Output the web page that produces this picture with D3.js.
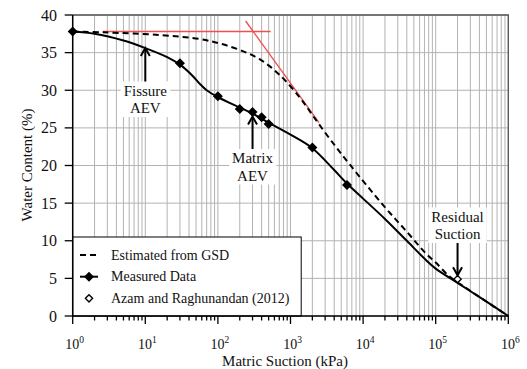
<!DOCTYPE html>
<html>
<head>
<meta charset="utf-8">
<script src="https://cdn.jsdelivr.net/npm/d3@7"></script>
<style>
  body { margin: 0; background: #fff; }
  svg { display: block; font-family: "Liberation Serif", "Times New Roman", serif; }
</style>
</head>
<body>
<svg id="chart" width="527" height="369"></svg>
<script>

// measured points
var measuredSuction = [1, 30, 100, 200, 300, 400, 500, 2000, 6000];
var measuredWater = [37.8, 33.6, 29.2, 27.5, 27.1, 26.4, 25.5, 22.4, 17.4];

// fitted curve through measured data
var fitSuction = [1, 2, 5, 10, 20, 30, 45, 57, 70, 100, 200, 300, 500, 1000, 2000, 4000, 6000,
  10000, 20000, 40000, 75000, 100000, 200000, 450000, 1000000];
var fitWater = [37.8, 37.5, 36.6, 35.6, 34.4, 33.4, 31.9, 30.8, 30.0, 29.1, 27.7, 26.9, 25.7, 24.1, 22.3, 19.4, 17.6,
  15.6, 12.9, 10.0, 7.35, 6.3, 4.4, 2.2, 0];

// estimated from GSD
var gsdSuction = [1, 2.6, 16, 57, 107, 201, 380, 716, 1352, 2042, 3500, 6600,
  19000, 40000, 75000, 100000, 157000, 260000, 450000, 1000000];
var gsdWater = [37.8, 37.7, 37.33, 36.8, 36.2, 35.35, 34.1, 32.0, 29.0, 26.6, 23.5, 20.1,
  14.7, 11.2, 8.2, 7.1, 5.2, 3.75, 2.2, 0];

// Azam and Raghunandan (2012)
var azamSuction = [200000];
var azamWater = [4.9];

// red construction lines
var flatSuction = [2.6, 533];
var flatWater = [37.8, 37.8];
var tangentSuction = [241, 2470];
var tangentWater = [39.2, 25.7];

var yTicks = [0, 5, 10, 15, 20, 25, 30, 35, 40];
var xExponents = [0, 1, 2, 3, 4, 5, 6];

var legendLabels = ['Estimated from GSD', 'Measured Data', 'Azam and Raghunandan (2012)'];

var svg = d3.select('#chart');
var margin = {left: 72.7, right: 18.7, top: 15, bottom: 53};
var width = 527 - margin.left - margin.right;
var height = 369 - margin.top - margin.bottom;

var x = d3.scaleLog().domain([1, 1e6]).range([margin.left, margin.left + width]);
var y = d3.scaleLinear().domain([0, 40]).range([margin.top + height, margin.top]);

var zip = function(a, b){ return a.map(function(d, i){ return [d, b[i]]; }); };

var gridColor = '#b3b3b3';
var grid = svg.append('g').attr('class', 'grid');

// vertical grid, majors and minors
var minorVals = [];
xExponents.forEach(function(e){
  for (var k = 1; k < 10; k++){
    var v = k * Math.pow(10, e);
    if (v <= 1e6) minorVals.push(v);
  }
});
grid.selectAll('line.v')
  .data(minorVals)
  .enter()
  .append('line')
  .attr('x1', function(d){ return x(d); })
  .attr('x2', function(d){ return x(d); })
  .attr('y1', y(40))
  .attr('y2', y(0))
  .attr('stroke', gridColor)
  .attr('stroke-width', 1);

grid.selectAll('line.h')
  .data(yTicks)
  .enter()
  .append('line')
  .attr('x1', x(1))
  .attr('x2', x(1e6))
  .attr('y1', function(d){ return y(d); })
  .attr('y2', function(d){ return y(d); })
  .attr('stroke', gridColor)
  .attr('stroke-width', 1);

// top & right frame
svg.append('path')
  .attr('d', 'M' + x(1) + ',' + y(40) + 'H' + x(1e6) + 'V' + y(0))
  .attr('fill', 'none')
  .attr('stroke', '#555')
  .attr('stroke-width', 1.3);

// annotation label boxes + arrows
var notes = [
  {lines: ['Fissure', 'AEV'], sx: 10, tip: 35.6, baseY: 95.5},
  {lines: ['Matrix', 'AEV'], sx: 300, tip: 26.5, baseY: 163},
  {lines: ['Residual', 'Suction'], sx: 200000, tip: 5.4, baseY: 221.5}
];

// red lines
var straight = d3.line().x(function(d){ return x(d[0]); }).y(function(d){ return y(d[1]); });
svg.append('path')
  .attr('d', straight(zip(flatSuction, flatWater)))
  .attr('stroke', '#f25050')
  .attr('stroke-width', 1.4)
  .attr('fill', 'none');
svg.append('path')
  .attr('d', straight(zip(tangentSuction, tangentWater)))
  .attr('stroke', '#f25050')
  .attr('stroke-width', 1.4)
  .attr('fill', 'none');

var curve = d3.line()
  .x(function(d){ return x(d[0]); })
  .y(function(d){ return y(d[1]); })
  .curve(d3.curveCatmullRom.alpha(0.5));

svg.append('path')
  .attr('d', curve(zip(gsdSuction, gsdWater)))
  .attr('fill', 'none')
  .attr('stroke', '#000')
  .attr('stroke-width', 2)
  .attr('stroke-dasharray', '6,4');

svg.append('path')
  .attr('d', curve(zip(fitSuction, fitWater)))
  .attr('fill', 'none')
  .attr('stroke', '#000')
  .attr('stroke-width', 2);

var diamond = 'M0,-5L5,0L0,5L-5,0Z';
var smallDiamond = 'M0,-3.6L3.6,0L0,3.6L-3.6,0Z';

svg.selectAll('path.meas')
  .data(zip(measuredSuction, measuredWater))
  .enter()
  .append('path')
  .attr('d', diamond)
  .attr('transform', function(d){ return 'translate(' + x(d[0]) + ',' + y(d[1]) + ')'; })
  .attr('fill', '#000');

svg.selectAll('path.azam')
  .data(zip(azamSuction, azamWater))
  .enter()
  .append('path')
  .attr('d', smallDiamond)
  .attr('transform', function(d){ return 'translate(' + x(d[0]) + ',' + y(d[1]) + ')'; })
  .attr('fill', '#fff')
  .attr('stroke', '#000')
  .attr('stroke-width', 1.4);

// annotations
notes.forEach(function(n){
  var g = svg.append('g');
  var cx = x(n.sx);
  var bg = g.append('rect').attr('fill', '#fff');
  var t = g.append('text')
    .attr('text-anchor', 'middle')
    .style('font-size', '15px')
    .attr('fill', '#111');
  n.lines.forEach(function(l, i){
    t.append('tspan').attr('x', cx).attr('y', n.baseY + i * 17.5).text(l);
  });
  var bb = t.node().getBBox();
  bg.attr('x', bb.x - 3).attr('y', bb.y - 1).attr('width', bb.width + 6).attr('height', bb.height + 2);
  var tip = y(n.tip);
  // arrow goes up from box top, or down from box bottom
  var dir = tip < bb.y ? 1 : -1;
  var start = dir === 1 ? bb.y - 1 : bb.y + bb.height + 1;
  g.append('line')
    .attr('x1', cx).attr('x2', cx)
    .attr('y1', start).attr('y2', tip + dir)
    .attr('stroke', '#000').attr('stroke-width', 2);
  g.append('path')
    .attr('d', 'M' + (cx - 4.5) + ',' + (tip + 8 * dir) + 'L' + cx + ',' + tip + 'L' + (cx + 4.5) + ',' + (tip + 8 * dir))
    .attr('fill', 'none')
    .attr('stroke', '#000')
    .attr('stroke-width', 2);
});

// legend box
var lg = svg.append('g');
lg.append('rect')
  .attr('x', x(1))
  .attr('y', 237)
  .attr('width', 228.5)
  .attr('height', y(0) - 237)
  .attr('fill', '#fff')
  .attr('stroke', '#000')
  .attr('stroke-width', 1);

var legY = [255, 276.7, 298.3];
lg.selectAll('text')
  .data(legendLabels)
  .enter()
  .append('text')
  .attr('x', 111)
  .attr('y', function(d, i){ return legY[i]; })
  .attr('dy', '0.33em')
  .style('font-size', '14px')
  .attr('fill', '#111')
  .text(function(d){ return d; });

lg.append('line')
  .attr('x1', 80).attr('x2', 98).attr('y1', legY[0]).attr('y2', legY[0])
  .attr('stroke', '#000').attr('stroke-width', 2).attr('stroke-dasharray', '6,4');
lg.append('line')
  .attr('x1', 80).attr('x2', 98).attr('y1', legY[1]).attr('y2', legY[1])
  .attr('stroke', '#000').attr('stroke-width', 2);
lg.append('path')
  .attr('d', diamond)
  .attr('transform', 'translate(89,' + legY[1] + ')')
  .attr('fill', '#000');
lg.append('path')
  .attr('d', smallDiamond)
  .attr('transform', 'translate(89,' + legY[2] + ')')
  .attr('fill', '#fff')
  .attr('stroke', '#000')
  .attr('stroke-width', 1.4);

// axes
var yAxis = svg.append('g');
yAxis.append('line')
  .attr('x1', x(1)).attr('x2', x(1))
  .attr('y1', y(40)).attr('y2', y(0))
  .attr('stroke', '#000').attr('stroke-width', 1.5);
yAxis.selectAll('line.tick')
  .data(yTicks)
  .enter()
  .append('line')
  .attr('x1', x(1) - 8).attr('x2', x(1))
  .attr('y1', function(d){ return y(d); })
  .attr('y2', function(d){ return y(d); })
  .attr('stroke', '#000').attr('stroke-width', 1.3);
yAxis.selectAll('text')
  .data(yTicks)
  .enter()
  .append('text')
  .attr('x', 57)
  .attr('y', function(d){ return y(d); })
  .attr('dy', '0.35em')
  .attr('text-anchor', 'end')
  .style('font-size', '16px')
  .attr('fill', '#111')
  .text(function(d){ return d; });

var xAxis = svg.append('g');
xAxis.append('line')
  .attr('x1', x(1)).attr('x2', x(1e6))
  .attr('y1', y(0)).attr('y2', y(0))
  .attr('stroke', '#000').attr('stroke-width', 1.5);
xAxis.selectAll('line.minor')
  .data(minorVals)
  .enter()
  .append('line')
  .attr('x1', function(d){ return x(d); })
  .attr('x2', function(d){ return x(d); })
  .attr('y1', y(0))
  .attr('y2', function(d){
    var isMajor = Math.abs(Math.log10(d) - Math.round(Math.log10(d))) < 1e-9;
    return y(0) + (isMajor ? 8 : 4.5);
  })
  .attr('stroke', '#000').attr('stroke-width', 1.3);

var xl = xAxis.selectAll('text')
  .data(xExponents)
  .enter()
  .append('text')
  .attr('x', function(d){ return x(Math.pow(10, d)) + 2; })
  .attr('y', 348.5)
  .attr('text-anchor', 'middle')
  .attr('fill', '#111')
  .style('font-size', '14px');
xl.append('tspan').text('10');
xl.append('tspan')
  .attr('dy', -6)
  .style('font-size', '9.5px')
  .text(function(d){ return d; });

// axis titles
svg.append('text')
  .attr('x', 285)
  .attr('y', 365.5)
  .attr('text-anchor', 'middle')
  .style('font-size', '15px')
  .attr('fill', '#111')
  .text('Matric Suction (kPa)');

svg.append('text')
  .attr('transform', 'translate(32,165) rotate(-90)')
  .attr('text-anchor', 'middle')
  .style('font-size', '15px')
  .attr('fill', '#111')
  .text('Water Content (%)');

</script>
</body>
</html>
